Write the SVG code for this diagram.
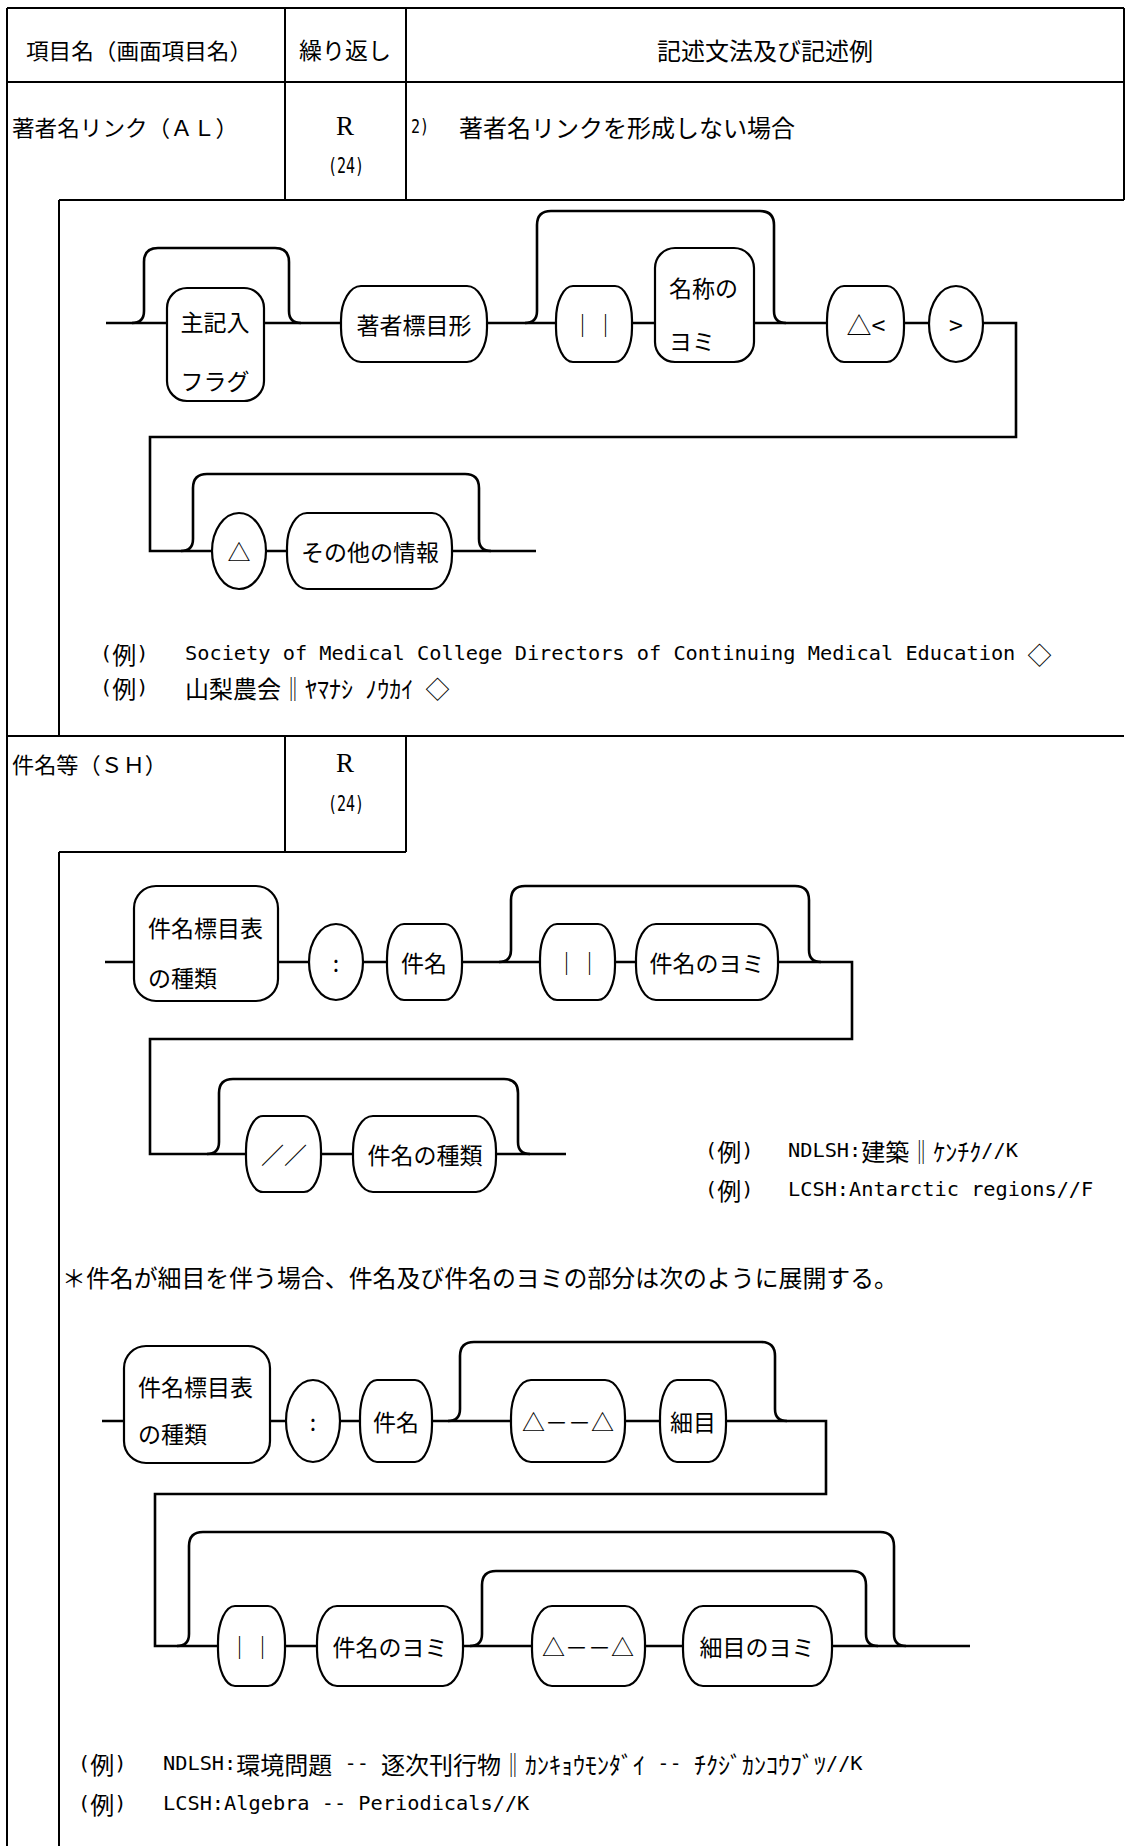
<svg xmlns="http://www.w3.org/2000/svg" width="1126" height="1846" viewBox="0 0 1126 1846">
<style>
.t{font-family:"Noto Sans CJK JP","Noto Sans CJK SC",sans-serif;font-size:23px;fill:#000}
.h{font-family:"Noto Sans CJK JP","Noto Sans CJK SC",sans-serif;font-size:22px;fill:#000}
.c{text-anchor:middle;dominant-baseline:central}
.b{dominant-baseline:central}
.m{font-family:"DejaVu Sans Mono","Liberation Mono","Noto Sans CJK JP",monospace;font-size:20.3px;fill:#000;dominant-baseline:central}
.j{font-family:"Noto Sans CJK JP","Noto Sans CJK SC",sans-serif;font-size:24px}
.r{font-family:"Liberation Serif","Noto Sans CJK JP",serif;font-size:27px;fill:#000}
.tb{fill:none;stroke:#000;stroke-width:2}
.ln{fill:none;stroke:#000;stroke-width:2.6}
.nd{fill:#fff;stroke:#000;stroke-width:2.2}
</style>
<rect width="1126" height="1846" fill="#fff"/>

<g id="table">
<path class="tb" d="M7,8 H1124 M7,8 V1846 M7,82 H1124 M285,8 V200 M406,8 V200 M1124,8 V200 M59,200 H1124 M59,200 V736 M7,736 H1124 M285,736 V852 M406,736 V852 M59,852 H406 M59,852 V1846"/>
<text class="h b" x="26" y="49" textLength="226" lengthAdjust="spacingAndGlyphs">項目名（画面項目名）</text>
<text class="t c" x="345" y="49">繰り返し</text>
<text class="t c" x="765" y="49" style="font-size:24px">記述文法及び記述例</text>
<text class="h b" x="12" y="126" textLength="226" lengthAdjust="spacingAndGlyphs">著者名リンク（ＡＬ）</text>
<text class="r c" x="345" y="126">R</text>
<text class="m c" x="346" y="165" style="font-size:22px" textLength="36" lengthAdjust="spacingAndGlyphs">(24)</text>
<text class="m b" x="411" y="126" textLength="18" lengthAdjust="spacingAndGlyphs">2)</text>
<text class="t b" x="459" y="126" style="font-size:24px">著者名リンクを形成しない場合</text>
<text class="h b" x="12" y="763" textLength="155" lengthAdjust="spacingAndGlyphs">件名等（ＳＨ）</text>
<text class="r c" x="345" y="763">R</text>
<text class="m c" x="346" y="803" style="font-size:22px" textLength="36" lengthAdjust="spacingAndGlyphs">(24)</text>
</g>

<g id="connectors">
<path class="ln" d="M106,323 H1016 V437 H150 V551 H536"/>
<path class="ln" d="M132,323 Q144,323 144,311 V262 Q144,248 158,248 H275 Q289,248 289,262 V311 Q289,323 301,323"/>
<path class="ln" d="M525,323 Q537,323 537,311 V225 Q537,211 551,211 H760 Q774,211 774,225 V311 Q774,323 786,323"/>
<path class="ln" d="M181,551 Q193,551 193,539 V488 Q193,474 207,474 H465 Q479,474 479,488 V539 Q479,551 491,551"/>
<path class="ln" d="M105,962 H852 V1039 H150 V1154 H566"/>
<path class="ln" d="M499,962 Q511,962 511,950 V900 Q511,886 525,886 H795 Q809,886 809,900 V950 Q809,962 821,962"/>
<path class="ln" d="M207,1154 Q219,1154 219,1142 V1093 Q219,1079 233,1079 H504 Q518,1079 518,1093 V1142 Q518,1154 530,1154"/>
<path class="ln" d="M102,1421 H826 V1494 H155 V1646 H970"/>
<path class="ln" d="M448,1421 Q460,1421 460,1409 V1356 Q460,1342 474,1342 H761 Q775,1342 775,1356 V1409 Q775,1421 787,1421"/>
<path class="ln" d="M177,1646 Q189,1646 189,1634 V1546 Q189,1532 203,1532 H880 Q894,1532 894,1546 V1634 Q894,1646 906,1646"/>
<path class="ln" d="M470,1646 Q482,1646 482,1634 V1585 Q482,1571 496,1571 H852 Q866,1571 866,1585 V1634 Q866,1646 878,1646"/>
</g>

<g id="al-shukinyu"><rect class="nd" x="167" y="288" width="97" height="113" rx="20"/><text class="t c" x="215" y="321">主記入</text><text class="t c" x="215" y="380">フラグ</text></g>
<g id="al-chosha"><rect class="nd" x="341" y="286" width="146" height="76" rx="20" ry="34"/><text class="t c" x="414" y="324">著者標目形</text></g>
<g id="al-sep"><rect class="nd" x="556" y="286" width="76" height="76" rx="17" ry="34"/><text class="t c" x="594" y="324">｜｜</text></g>
<g id="al-yomi"><rect class="nd" x="655" y="248" width="99" height="114" rx="20"/><text class="t b" x="669" y="287">名称の</text><text class="t b" x="669" y="340">ヨミ</text></g>
<g id="al-lt"><rect class="nd" x="827" y="286" width="77" height="76" rx="17" ry="34"/><text class="t c" x="866" y="324" style="font-size:25px">△&lt;</text></g>
<g id="al-gt"><ellipse class="nd" cx="956" cy="324" rx="27" ry="38"/><text class="t c" x="956" y="324" style="font-size:25px">&gt;</text></g>
<g id="al-delta"><ellipse class="nd" cx="239" cy="551" rx="27" ry="38"/><text class="t c" x="239" y="551">△</text></g>
<g id="al-other"><rect class="nd" x="287" y="513" width="165" height="76" rx="20" ry="34"/><text class="t c" x="370" y="551">その他の情報</text></g>

<g id="al-examples">
<text class="m" x="100" y="653">(<tspan class="j">例</tspan>)</text>
<text class="m" x="185" y="653">Society of Medical College Directors of Continuing Medical Education <tspan class="j">◇</tspan></text>
<text class="m" x="100" y="687">(<tspan class="j">例</tspan>)</text>
<text class="m" x="185" y="687"><tspan class="j">山梨農会‖ﾔﾏﾅｼ</tspan> <tspan class="j">ﾉｳｶｲ</tspan> <tspan class="j">◇</tspan></text>
</g>

<g id="sh1-type"><rect class="nd" x="134" y="886" width="144" height="115" rx="22"/><text class="t b" x="148" y="927">件名標目表</text><text class="t b" x="148" y="977">の種類</text></g>
<g id="sh1-colon"><ellipse class="nd" cx="336" cy="962" rx="27" ry="38"/><text class="t c" x="336" y="962">:</text></g>
<g id="sh1-kenmei"><rect class="nd" x="387" y="924" width="75" height="76" rx="17" ry="34"/><text class="t c" x="424" y="962">件名</text></g>
<g id="sh1-sep"><rect class="nd" x="540" y="924" width="75" height="76" rx="17" ry="34"/><text class="t c" x="578" y="962">｜｜</text></g>
<g id="sh1-yomi"><rect class="nd" x="636" y="924" width="142" height="76" rx="20" ry="34"/><text class="t c" x="707" y="962">件名のヨミ</text></g>
<g id="sh1-slash"><rect class="nd" x="246" y="1116" width="75" height="76" rx="17" ry="34"/><text class="t c" x="284" y="1154">／／</text></g>
<g id="sh1-kind"><rect class="nd" x="353" y="1116" width="143" height="76" rx="20" ry="34"/><text class="t c" x="425" y="1154">件名の種類</text></g>

<g id="sh1-examples">
<text class="m" x="705" y="1150">(<tspan class="j">例</tspan>)</text>
<text class="m" x="788" y="1150">NDLSH:<tspan class="j">建築‖ｹﾝﾁｸ</tspan>//K</text>
<text class="m" x="705" y="1189">(<tspan class="j">例</tspan>)</text>
<text class="m" x="788" y="1189">LCSH:Antarctic regions//F</text>
</g>

<g id="note"><text class="h b" x="62" y="1276" style="font-size:24px" textLength="836" lengthAdjust="spacingAndGlyphs">＊件名が細目を伴う場合、件名及び件名のヨミの部分は次のように展開する。</text></g>

<g id="sh2-type"><rect class="nd" x="124" y="1346" width="146" height="117" rx="22"/><text class="t b" x="138" y="1386">件名標目表</text><text class="t b" x="138" y="1433">の種類</text></g>
<g id="sh2-colon"><ellipse class="nd" cx="313" cy="1421" rx="27" ry="41"/><text class="t c" x="313" y="1421">:</text></g>
<g id="sh2-kenmei"><rect class="nd" x="360" y="1380" width="72" height="82" rx="17" ry="37"/><text class="t c" x="396" y="1421">件名</text></g>
<g id="sh2-dash"><rect class="nd" x="511" y="1380" width="114" height="82" rx="20" ry="37"/><text class="t c" x="568" y="1421">△－－△</text></g>
<g id="sh2-saimoku"><rect class="nd" x="660" y="1380" width="66" height="82" rx="17" ry="37"/><text class="t c" x="693" y="1421">細目</text></g>
<g id="sh2-sep"><rect class="nd" x="218" y="1606" width="67" height="80" rx="17" ry="36"/><text class="t c" x="251" y="1646">｜｜</text></g>
<g id="sh2-yomi"><rect class="nd" x="317" y="1606" width="146" height="80" rx="20" ry="36"/><text class="t c" x="390" y="1646">件名のヨミ</text></g>
<g id="sh2-dash2"><rect class="nd" x="532" y="1606" width="113" height="80" rx="20" ry="36"/><text class="t c" x="588" y="1646">△－－△</text></g>
<g id="sh2-saiyomi"><rect class="nd" x="683" y="1606" width="149" height="80" rx="20" ry="36"/><text class="t c" x="757" y="1646">細目のヨミ</text></g>

<g id="sh2-examples">
<text class="m" x="78" y="1763">(<tspan class="j">例</tspan>)</text>
<text class="m" x="163" y="1763">NDLSH:<tspan class="j">環境問題</tspan> -- <tspan class="j">逐次刊行物‖ｶﾝｷｮｳﾓﾝﾀﾞｲ</tspan> -- <tspan class="j">ﾁｸｼﾞｶﾝｺｳﾌﾞﾂ</tspan>//K</text>
<text class="m" x="78" y="1803">(<tspan class="j">例</tspan>)</text>
<text class="m" x="163" y="1803">LCSH:Algebra -- Periodicals//K</text>
</g>
</svg>
